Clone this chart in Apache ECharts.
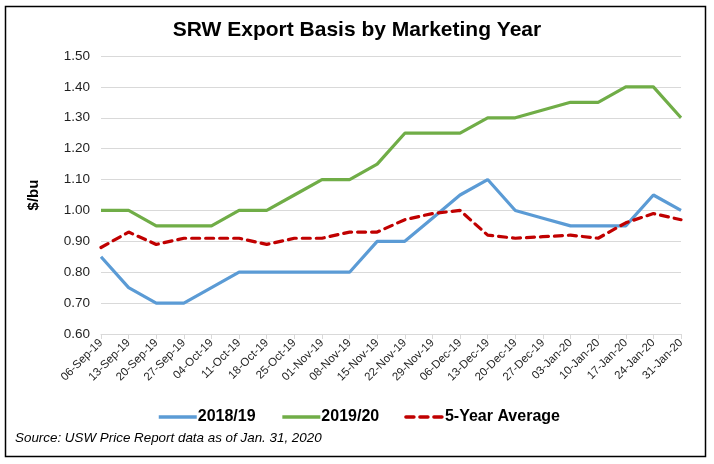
<!DOCTYPE html>
<html>
<head>
<meta charset="utf-8">
<script src="https://cdn.jsdelivr.net/npm/echarts@6/dist/echarts.min.js"></script>
<style>
    html, body { margin: 0; padding: 0; background: #fff; }
    #chart { width: 714px; height: 464px; }
</style>
</head>
<body>
<div id="chart"></div>
<script>
// ---- data
const weeks = ['06-Sep-19', '13-Sep-19', '20-Sep-19', '27-Sep-19', '04-Oct-19', '11-Oct-19', '18-Oct-19',
    '25-Oct-19', '01-Nov-19', '08-Nov-19', '15-Nov-19', '22-Nov-19', '29-Nov-19', '06-Dec-19', '13-Dec-19',
    '20-Dec-19', '27-Dec-19', '03-Jan-20', '10-Jan-20', '17-Jan-20', '24-Jan-20', '31-Jan-20'];
const basis1819 = [0.85, 0.75, 0.70, 0.70, 0.75, 0.80, 0.80, 0.80, 0.80, 0.80, 0.90, 0.90, 0.975, 1.05, 1.10,
    1.00, 0.975, 0.95, 0.95, 0.95, 1.05, 1.00];
const basis1920 = [1.00, 1.00, 0.95, 0.95, 0.95, 1.00, 1.00, 1.05, 1.10, 1.10, 1.15, 1.25, 1.25, 1.25, 1.30,
    1.30, 1.325, 1.35, 1.35, 1.40, 1.40, 1.30];
const fiveYearAvg = [0.88, 0.93, 0.89, 0.91, 0.91, 0.91, 0.89, 0.91, 0.91, 0.93, 0.93, 0.97, 0.99, 1.00, 0.92,
    0.91, 0.915, 0.92, 0.91, 0.96, 0.99, 0.97];

var chart = echarts.init(document.getElementById('chart'));
var option = {
    animation: false,
    textStyle: { fontFamily: 'Liberation Sans, Arial, sans-serif' },
    title: {
        text: 'SRW Export Basis by Marketing Year',
        left: 'center',
        top: 15,
        textStyle: { fontSize: 21, fontWeight: 'bold', color: '#000' }
    },
    graphic: [{
        type: 'rect',
        shape: { x: 5.5, y: 6.5, width: 700, height: 450 },
        style: { fill: 'none', stroke: '#000', lineWidth: 1.5 },
        silent: true
    }, {
        type: 'text',
        left: 15,
        top: 432,
        style: {
            text: 'Source: USW Price Report data as of Jan. 31, 2020',
            font: 'italic 13.4px Liberation Sans, Arial, sans-serif',
            fill: '#000'
        }
    }],
    legend: {
        bottom: 34,
        left: 152,
        itemWidth: 38,
        itemHeight: 4,
        itemGap: 25,
        itemStyle: { opacity: 0 },
        lineStyle: { width: 3.5, opacity: 1 },
        textStyle: { fontSize: 16, fontWeight: 'bold', color: '#000', padding: [0, 0, 0, -4] },
        data: ['2018/19', '2019/20', '5-Year Average']
    },
    grid: { left: 101, right: 33, top: 56, bottom: 130 },
    xAxis: {
        type: 'category',
        data: weeks,
        boundaryGap: false,
        axisLine: { lineStyle: { color: '#D9D9D9' } },
        axisTick: { show: true, length: 5, lineStyle: { color: '#D9D9D9' } },
        axisLabel: { rotate: 45, fontSize: 11.5, color: '#1f1f1f', margin: 7, interval: 0 }
    },
    yAxis: {
        type: 'value',
        min: 0.6,
        max: 1.5,
        interval: 0.1,
        name: '$/bu',
        nameLocation: 'middle',
        nameGap: 60,
        nameRotate: 90,
        nameTextStyle: { fontSize: 15, fontWeight: 'bold', color: '#000' },
        axisLine: { show: false },
        axisTick: { show: false },
        axisLabel: {
            fontSize: 13.5,
            color: '#1f1f1f',
            margin: 11,
            formatter: function (val) {
                return val.toFixed(2);
            }
        },
        splitLine: { lineStyle: { color: '#D9D9D9', width: 1 } }
    },
    series: [{
        name: '2018/19',
        type: 'line',
        data: basis1819,
        symbol: 'none',
        color: '#5B9BD5',
        lineStyle: { width: 3.2, color: '#5B9BD5' }
    }, {
        name: '2019/20',
        type: 'line',
        data: basis1920,
        symbol: 'none',
        color: '#70AD47',
        lineStyle: { width: 3.2, color: '#70AD47' }
    }, {
        name: '5-Year Average',
        type: 'line',
        data: fiveYearAvg,
        symbol: 'none',
        color: '#C00000',
        lineStyle: { width: 3.2, color: '#C00000', type: [8, 6], cap: 'round' }
    }]
};
chart.setOption(option);
</script>
</body>
</html>
